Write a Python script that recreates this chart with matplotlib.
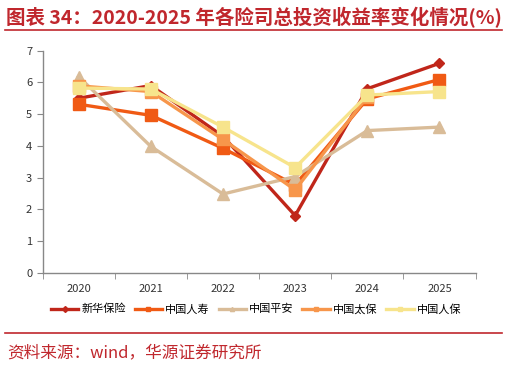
import numpy as np
import matplotlib
matplotlib.use("Agg")
import matplotlib.pyplot as plt
from matplotlib.lines import Line2D

plt.rcParams['font.family'] = ['Noto Sans CJK SC', 'DejaVu Sans']

years = ["2020", "2021", "2022", "2023", "2024", "2025"]
xinhua  = [5.50, 5.90, 4.30, 1.80, 5.80, 6.60]
renshou = [5.31, 4.96, 3.92, 2.77, 5.48, 6.09]
pingan  = [6.18, 3.98, 2.48, 3.03, 4.48, 4.59]
taibao  = [5.89, 5.71, 4.20, 2.61, 5.55, np.nan]
renbao  = [5.82, 5.79, 4.59, 3.31, 5.60, 5.71]

names = ["新华保险", "中国人寿", "中国平安", "中国太保", "中国人保"]
series = [xinhua, renshou, pingan, taibao, renbao]
colors = ["#C0261A", "#F05A14", "#D9BC98", "#F7964B", "#F7E48C"]
markers = ["D", "s", "^", "s", "s"]
msizes = [5, 8, 8, 8, 8]

fig = plt.figure(figsize=(5.07, 3.67), dpi=100)
ax = fig.add_axes([0.084, 0.257, 0.854, 0.605])

x = np.arange(len(years))
for vals, c, m, ms, n in zip(series, colors, markers, msizes, names):
    ax.plot(x, vals, color=c, lw=2.4, marker=m, markersize=ms, label=n)

ax.set_xlim(-0.5, len(years) - 0.5)
ax.set_ylim(0, 7)
ax.set_yticks(range(0, 8))
ax.set_xticks(x)
ax.set_xticklabels(years)
ax.set_xticks(np.arange(-0.5, len(years)), minor=True)
ax.tick_params(axis='x', which='major', length=0, pad=8, labelsize=8, colors='#333333')
ax.tick_params(axis='x', which='minor', length=4, color='#888888')
ax.tick_params(axis='y', length=4, color='#888888', labelsize=8, labelcolor='#333333')
for s in ['top', 'right']:
    ax.spines[s].set_visible(False)
for s in ['left', 'bottom']:
    ax.spines[s].set_color('#888888')
    ax.spines[s].set_linewidth(1)

handles = [Line2D([0], [0], color=c, lw=2.4, marker=m, markersize=3) for c, m in zip(colors, markers)]
fig.legend(handles, names, loc='center', bbox_to_anchor=(0.505, 0.158), ncol=5, frameon=False,
           fontsize=8, handlelength=2.5, handletextpad=0.25, columnspacing=0.8)

red = "#C0272D"
fig.text(0.012, 0.953, "图表 34：2020-2025 年各险司总投资收益率变化情况(%)", color=red,
         fontsize=14, fontweight='bold', va='center', ha='left')
fig.add_artist(Line2D([0.01, 0.99], [0.918, 0.918], color=red, lw=1.2))
fig.add_artist(Line2D([0.01, 0.99], [0.093, 0.093], color=red, lw=1.2))
fig.text(0.014, 0.038, "资料来源：wind，华源证券研究所", color=red, fontsize=12,
         va='center', ha='left')

fig.savefig("out.png", dpi=100)
